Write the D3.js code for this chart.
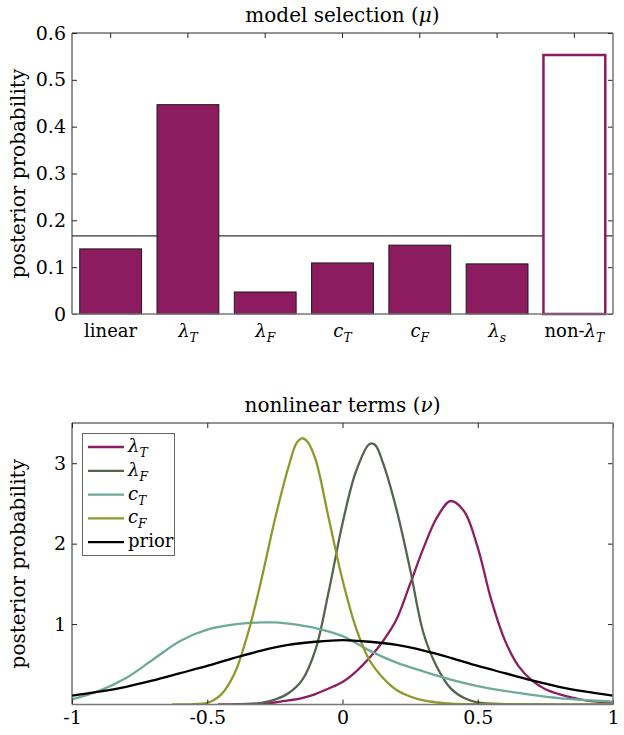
<!DOCTYPE html>
<html>
<head>
<meta charset="utf-8">
<script src="https://cdn.jsdelivr.net/npm/d3@7"></script>
<style>
  body { margin: 0; background: #fff; }
  svg text { font-family: "DejaVu Serif", "Liberation Serif", serif; fill: #000; }
</style>
</head>
<body>
<svg width="624" height="735"></svg>
<script>

// model selection (mu)
const models = ['linear', 'λ_T', 'λ_F', 'c_T', 'c_F', 'λ_s', 'non-λ_T'];
const modelProb = [0.139, 0.447, 0.047, 0.109, 0.147, 0.107, 0.553];
const uniformLevel = 0.1667;
const probTicks = [0, 0.1, 0.2, 0.3, 0.4, 0.5, 0.6];

// nonlinear terms (nu), [value, density]
const nuLamT = [[-0.46,0],[-0.35,0.005],[-0.3,0.012],[-0.25,0.025],[-0.2,0.05],[-0.15,0.08],[-0.1,0.13],[-0.05,0.2],[0,0.28],[0.05,0.41],[0.1,0.58],[0.15,0.79],[0.2,1.06],[0.25,1.5],[0.3,1.95],[0.35,2.33],[0.4,2.53],[0.45,2.4],[0.5,1.95],[0.55,1.3],[0.6,0.8],[0.65,0.48],[0.7,0.3],[0.75,0.19],[0.8,0.13],[0.9,0.05],[1,0.02]];
const nuLamF = [[-0.4,0],[-0.3,0.02],[-0.25,0.06],[-0.2,0.14],[-0.15,0.3],[-0.1,0.68],[-0.05,1.42],[0,2.25],[0.05,2.9],[0.1,3.24],[0.12,3.23],[0.15,3.0],[0.2,2.42],[0.25,1.68],[0.3,0.88],[0.35,0.46],[0.4,0.2],[0.45,0.08],[0.5,0.025],[0.6,0.005],[0.7,0],[1,0]];
const nuCT = [[-1,0.065],[-0.9,0.17],[-0.8,0.33],[-0.7,0.56],[-0.6,0.79],[-0.5,0.93],[-0.4,0.995],[-0.3,1.02],[-0.25,1.02],[-0.2,1.005],[-0.1,0.95],[0,0.85],[0.1,0.67],[0.2,0.52],[0.3,0.41],[0.4,0.31],[0.5,0.23],[0.6,0.17],[0.7,0.12],[0.8,0.08],[0.9,0.055],[1,0.035]];
const nuCF = [[-0.63,0],[-0.55,0.005],[-0.5,0.02],[-0.45,0.12],[-0.4,0.38],[-0.35,0.88],[-0.3,1.55],[-0.25,2.3],[-0.2,2.95],[-0.17,3.25],[-0.15,3.31],[-0.13,3.27],[-0.1,3.05],[-0.05,2.3],[0,1.55],[0.05,0.95],[0.1,0.55],[0.15,0.33],[0.2,0.18],[0.25,0.1],[0.3,0.05],[0.35,0.025],[0.4,0.01],[0.5,0.003],[0.6,0],[1,0]];
const nuPrior = [[-1,0.11],[-0.9,0.16],[-0.8,0.22],[-0.7,0.3],[-0.6,0.39],[-0.5,0.48],[-0.4,0.58],[-0.3,0.67],[-0.2,0.74],[-0.1,0.78],[0,0.8],[0.1,0.78],[0.2,0.74],[0.3,0.67],[0.4,0.58],[0.5,0.48],[0.6,0.39],[0.7,0.3],[0.8,0.22],[0.9,0.16],[1,0.11]];
const nuTicks = [-1, -0.5, 0, 0.5, 1];
const densTicks = [1, 2, 3];

const series = [
  {name: 'λ_T', data: nuLamT, color: '#8c1e61'},
  {name: 'λ_F', data: nuLamF, color: '#556450'},
  {name: 'c_T', data: nuCT, color: '#6eaa9b'},
  {name: 'c_F', data: nuCF, color: '#8f982b'},
  {name: 'prior', data: nuPrior, color: '#000000'}
];

const svg = d3.select('svg');
const axisCol = '#262626';
const fs = 19;
const serif = '"DejaVu Serif", "Liberation Serif", serif';

// writes 'non-λ_T' style labels: roman prefix, italic symbol, italic subscript
function mathText(t, str) {
  if (str.indexOf('_') < 0) { t.text(str); return; }
  let parts = str.split('_');
  let base = parts[0], sub = parts[1];
  let sym = base.slice(-1), pre = base.slice(0, -1);
  if (pre) t.append('tspan').text(pre);
  t.append('tspan').style('font-style', 'italic').text(sym);
  t.append('tspan').style('font-style', 'italic').attr('font-size', '0.68em').attr('dy', 5).text(sub);
}

function title(g, x, y, label, sym) {
  let t = g.append('text').attr('x', x).attr('y', y).attr('text-anchor', 'middle').attr('font-size', 20);
  t.append('tspan').text(label + ' (');
  t.append('tspan').style('font-style', 'italic').text(sym);
  t.append('tspan').text(')');
}

function yLabel(g, x, y) {
  g.append('text').attr('transform', 'translate(' + x + ',' + y + ') rotate(-90)')
    .attr('text-anchor', 'middle').attr('font-size', 20).text('posterior probability');
}

function box(g, x0, x1, y0, y1) {
  g.append('line').attr('x1', x0).attr('x2', x1).attr('y1', y0).attr('y2', y0).attr('stroke', axisCol);
  g.append('line').attr('x1', x0).attr('x2', x0).attr('y1', y0).attr('y2', y1).attr('stroke', axisCol);
  g.append('line').attr('x1', x0).attr('x2', x1).attr('y1', y1).attr('y2', y1).attr('stroke', '#777').attr('stroke-width', 1.5);
  g.append('line').attr('x1', x1).attr('x2', x1).attr('y1', y0).attr('y2', y1).attr('stroke', '#777').attr('stroke-width', 1.5);
}

function styleAxis(g) {
  g.attr('font-family', serif);
  g.select('.domain').remove();
  g.selectAll('.tick line').attr('stroke', axisCol);
  g.selectAll('.tick text').attr('font-size', fs).attr('fill', '#000');
}

// ---------- top: model selection ----------
const L = 72, R = 613;
const t0 = 33, t1 = 314;

const xb = d3.scaleBand().domain(models).range([L, R]).paddingInner(0.2).paddingOuter(0.1);
const yb = d3.scaleLinear().domain([0, 0.6]).range([t1, t0]);

const gTop = svg.append('g');

gTop.append('line')
  .attr('x1', L).attr('x2', R)
  .attr('y1', yb(uniformLevel)).attr('y2', yb(uniformLevel))
  .attr('stroke', '#000').attr('stroke-width', 1);

gTop.selectAll('rect.bar')
  .data(models)
  .join('rect')
  .attr('class', 'bar')
  .attr('x', d => xb(d))
  .attr('width', xb.bandwidth())
  .attr('y', (d, i) => yb(modelProb[i]))
  .attr('height', (d, i) => yb(0) - yb(modelProb[i]))
  .attr('fill', (d, i) => i == models.length - 1 ? '#fff' : '#8c1c5f')
  .attr('stroke', (d, i) => i == models.length - 1 ? '#8c1c5f' : '#1a1a1a')
  .attr('stroke-width', (d, i) => i == models.length - 1 ? 2.5 : 1);

gTop.append('g').attr('transform', 'translate(' + L + ',0)')
  .call(d3.axisLeft(yb).tickValues(probTicks).tickSize(-5).tickPadding(6).tickFormat(d => String(d)))
  .call(styleAxis);
gTop.append('g').attr('transform', 'translate(' + R + ',0)')
  .call(d3.axisRight(yb).tickValues(probTicks).tickSize(-5).tickFormat(''))
  .call(styleAxis);
gTop.append('g').attr('transform', 'translate(0,' + t0 + ')')
  .call(d3.axisTop(xb).tickSize(-5).tickFormat(''))
  .call(styleAxis);

models.forEach(m => {
  let t = gTop.append('text')
    .attr('x', xb(m) + xb.bandwidth() / 2)
    .attr('y', t1 + 23)
    .attr('text-anchor', 'middle')
    .attr('font-size', 18);
  mathText(t, m);
});

box(gTop, L, R, t0, t1);
title(gTop, (L + R) / 2, 22, 'model selection', 'μ');
yLabel(gTop, 25, (t0 + t1) / 2);

// ---------- bottom: nonlinear terms ----------
const b0 = 423, b1 = 704.5;
const xn = d3.scaleLinear().domain([-1, 1]).range([L, R]);
const yn = d3.scaleLinear().domain([0, 3.5]).range([b1, b0]);

const gBot = svg.append('g');

svg.append('clipPath').attr('id', 'plotclip')
  .append('rect').attr('x', L).attr('y', b0).attr('width', R - L).attr('height', b1 - b0);

const line = d3.line()
  .x(d => xn(d[0]))
  .y(d => yn(d[1]))
  .curve(d3.curveCatmullRom.alpha(0.5));

const gLines = gBot.append('g').attr('clip-path', 'url(#plotclip)');
series.forEach(s => {
  gLines.append('path')
    .datum(s.data)
    .attr('fill', 'none')
    .attr('stroke', s.color)
    .attr('stroke-width', 2.3)
    .attr('d', line);
});

gBot.append('g').attr('transform', 'translate(' + L + ',0)')
  .call(d3.axisLeft(yn).tickValues(densTicks).tickSize(-5).tickPadding(6).tickFormat(d => String(d)))
  .call(styleAxis);
gBot.append('g').attr('transform', 'translate(' + R + ',0)')
  .call(d3.axisRight(yn).tickValues(densTicks).tickSize(-5).tickFormat(''))
  .call(styleAxis);
gBot.append('g').attr('transform', 'translate(0,' + b0 + ')')
  .call(d3.axisTop(xn).tickValues(nuTicks).tickSize(-5).tickFormat(''))
  .call(styleAxis);
gBot.append('g').attr('transform', 'translate(0,' + b1 + ')')
  .call(d3.axisBottom(xn).tickValues(nuTicks).tickSize(-5).tickPadding(6).tickFormat(d => String(d)))
  .call(styleAxis);

box(gBot, L, R, b0, b1);
title(gBot, (L + R) / 2, 412, 'nonlinear terms', 'ν');
yLabel(gBot, 25, (b0 + b1) / 2);

// legend
const lg = gBot.append('g');
lg.append('rect')
  .attr('x', 82.5).attr('y', 433.5).attr('width', 92).attr('height', 122)
  .attr('fill', '#fff').attr('stroke', '#666').attr('stroke-width', 1);
series.forEach((s, i) => {
  let yy = 447 + i * 23.8;
  lg.append('line')
    .attr('x1', 88).attr('x2', 124).attr('y1', yy).attr('y2', yy)
    .attr('stroke', s.color).attr('stroke-width', 2.3);
  let t = lg.append('text').attr('x', 128).attr('y', yy + 5).attr('font-size', 18);
  mathText(t, s.name);
});

</script>
</body>
</html>
